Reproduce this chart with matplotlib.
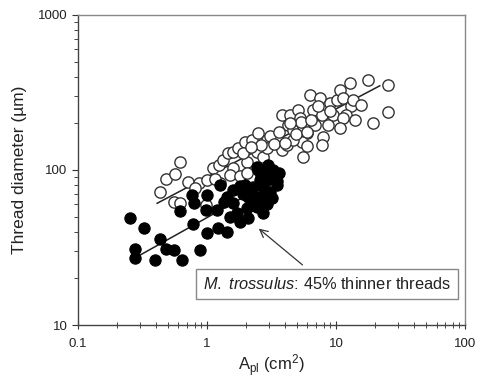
import matplotlib
matplotlib.use("Agg")
import matplotlib.pyplot as plt
from matplotlib.ticker import LogLocator, NullFormatter, FixedLocator, FixedFormatter

plt.rcParams['font.family'] = ['Liberation Sans', 'DejaVu Sans']
plt.rcParams['mathtext.fontset'] = 'custom'
plt.rcParams['mathtext.rm'] = 'Liberation Sans'
plt.rcParams['mathtext.it'] = 'Liberation Sans:italic'
plt.rcParams['mathtext.bf'] = 'Liberation Sans:bold'

# Open circles (M. edulis-type), A_pl (cm^2) vs thread diameter (um)
open_x = [0.43, 0.48, 0.56, 0.62, 0.55, 0.62, 0.71, 0.87, 0.98, 1.00,
          1.12, 1.24, 1.34, 1.46, 1.60, 1.75, 1.97, 2.21, 2.49, 2.89,
          2.03, 1.60, 1.51, 1.80, 2.03, 1.26, 2.42, 1.91, 2.73, 2.89,
          3.46, 3.78, 4.13, 3.78, 4.38, 4.26, 4.65, 5.08, 5.24, 5.56,
          5.90, 5.40, 5.56, 5.90, 4.65, 6.25, 6.64, 6.84, 7.48, 7.71,
          7.93, 7.71, 8.93, 9.48, 8.67, 10.1, 10.7, 11.3, 12.8, 13.1,
          12.0, 11.3, 10.7, 13.9, 13.5, 15.7, 17.7, 19.3, 25.2, 25.2,
          3.10, 3.30, 4.00, 4.90, 5.30, 6.00, 7.20, 9.00, 3.60, 2.60,
          4.40, 6.40, 1.15, 0.80, 2.20]
open_y = [72, 87.5, 94, 112, 62.5, 61.5, 84, 83, 59.5, 86,
          103, 108, 116, 128, 131, 138, 152, 156, 173, 156,
          113, 103, 93, 91, 95, 82, 131, 128, 122, 138,
          160, 135, 145, 226, 226, 195, 181, 244, 215, 191,
          173, 152, 122, 142, 156, 305, 244, 195, 290, 226,
          164, 145, 269, 226, 195, 283, 328, 290, 362, 257,
          226, 215, 186, 210, 283, 262, 381, 200, 353, 238,
          165, 148, 150, 170, 205, 175, 260, 240, 175, 145,
          200, 210, 88, 76, 140]

# Filled circles (M. trossulus)
filled_x = [0.254, 0.322, 0.277, 0.277, 0.396, 0.43, 0.48, 0.55, 0.64, 0.62,
            0.88, 0.78, 0.76, 0.79, 1.00, 1.00, 1.22, 1.42, 1.26, 1.42,
            1.60, 1.51, 1.69, 1.80, 2.03, 2.28, 1.97, 2.28, 2.57, 2.42,
            2.73, 2.98, 3.26, 2.73, 3.07, 3.46, 3.16, 2.73, 2.42, 1.60,
            1.19, 0.98, 2.09, 2.89, 3.60, 2.42, 2.09, 2.73, 1.80, 2.60,
            3.00, 3.30, 2.20, 1.90, 2.50, 3.50, 2.90, 1.35]
filled_y = [48.7, 42, 31, 26.9, 26.2, 36, 31, 30.5, 26.2, 54,
            30.5, 45, 69, 61, 69, 39, 42, 40, 80, 67,
            74, 50, 52.5, 46, 57, 62.5, 80, 78, 86, 105,
            95, 108, 100, 78, 72, 80, 66, 52.5, 58, 61,
            55, 55, 67, 86, 95, 67, 48.7, 67, 79, 90,
            92, 88, 72, 70, 100, 85, 60, 62]

# Regression line end points
fit_open_x = [0.41, 21.8]
fit_open_y = [61, 349]
fit_filled_x = [0.303, 3.5]
fit_filled_y = [28.3, 88.5]

x_ticks = [0.1, 1, 10, 100]
x_ticklabels = ['0.1', '1', '10', '100']
y_ticks = [10, 100, 1000]
y_ticklabels = ['10', '100', '1000']

fig = plt.figure(figsize=(4.82, 3.82), dpi=100)
ax = fig.add_axes([0.162, 0.149, 0.803, 0.812])

ax.plot(fit_open_x, fit_open_y, color='#222222', lw=1.1, zorder=1)
ax.plot(fit_filled_x, fit_filled_y, color='#222222', lw=1.1, zorder=1)
ax.scatter(open_x, open_y, s=66, facecolors='white', edgecolors='#333333',
           linewidths=1.0, zorder=2)
ax.scatter(filled_x, filled_y, s=66, facecolors='black', edgecolors='black',
           linewidths=0.8, zorder=3)

ax.set_xscale('log')
ax.set_yscale('log')
ax.set_xlim(0.1, 100)
ax.set_ylim(10, 1000)

ax.xaxis.set_major_locator(FixedLocator(x_ticks))
ax.xaxis.set_major_formatter(FixedFormatter(x_ticklabels))
ax.yaxis.set_major_locator(FixedLocator(y_ticks))
ax.yaxis.set_major_formatter(FixedFormatter(y_ticklabels))
ax.xaxis.set_minor_locator(LogLocator(base=10, subs=range(2, 10)))
ax.yaxis.set_minor_locator(LogLocator(base=10, subs=range(2, 10)))
ax.xaxis.set_minor_formatter(NullFormatter())
ax.yaxis.set_minor_formatter(NullFormatter())

ax.tick_params(axis='x', which='major', direction='inout', length=6, width=0.8,
               labelsize=9.5, pad=6, colors='#333333')
ax.tick_params(axis='x', which='minor', direction='inout', length=4, width=0.7,
               colors='#444444')
ax.tick_params(axis='y', which='major', direction='out', length=4, width=0.8,
               labelsize=9.5, colors='#333333')
ax.tick_params(axis='y', which='minor', direction='out', length=3, width=0.7,
               colors='#444444')
for lab in ax.get_xticklabels() + ax.get_yticklabels():
    lab.set_color('#222222')

for side in ['left', 'bottom']:
    ax.spines[side].set_color('#444444')
    ax.spines[side].set_linewidth(1.0)
for side in ['top', 'right']:
    ax.spines[side].set_color('#888888')
    ax.spines[side].set_linewidth(1.0)

ax.set_xlabel('A$_{\\mathregular{pl}}$ (cm$^{\\mathregular{2}}$)', fontsize=12,
              labelpad=2, color='#222222')
ax.set_ylabel('Thread diameter (\u00b5m)', fontsize=12.5, labelpad=8,
              color='#222222')

ax.annotate('', xy=(2.42, 43), xytext=(5.7, 23.8),
            arrowprops=dict(arrowstyle='->', color='#333333', lw=0.9,
                            mutation_scale=14))
ax.text(8.5, 18.4, '$\\mathit{M.\\ trossulus}$: 45% thinner threads',
        fontsize=11.8, ha='center', va='center', color='#222222',
        bbox=dict(boxstyle='square,pad=0.4', facecolor='white',
                  edgecolor='#888888', linewidth=1.0), zorder=5)

fig.savefig('out.png', dpi=100)
